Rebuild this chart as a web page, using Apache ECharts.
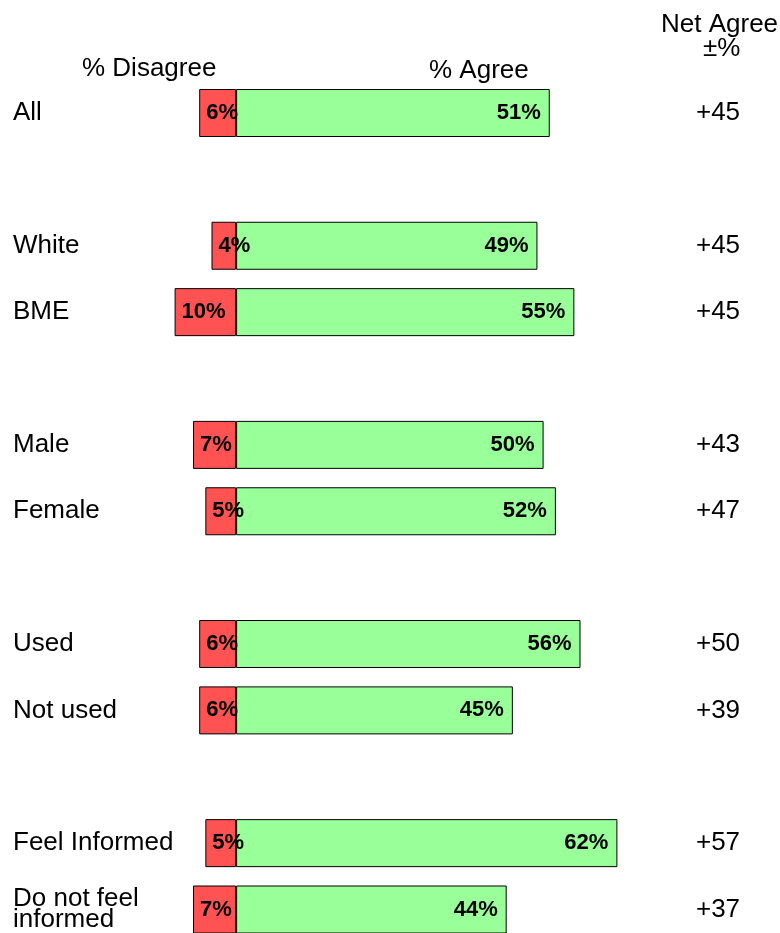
<!DOCTYPE html>
<html>
<head>
<meta charset="utf-8">
<script src="https://cdn.jsdelivr.net/npm/echarts@6/dist/echarts.min.js"></script>
<style>
html,body{margin:0;padding:0;background:#fff;}
#chart{width:780px;height:933px;}
</style>
</head>
<body>
<div id="chart"></div>
<script>
// Data (top to bottom; empty strings are spacer rows)
var categories = ['All', '', 'White', 'BME', '', 'Male', 'Female', '', 'Used', 'Not used', '', 'Feel Informed', 'Do not feel\ninformed'];
var disagree   = [6, null, 4, 10, null, 7, 5, null, 6, 6, null, 5, 7];
var agree      = [51, null, 49, 55, null, 50, 52, null, 56, 45, null, 62, 44];
var netAgree   = ['+45', '', '+45', '+45', '', '+43', '+47', '', '+50', '+39', '', '+57', '+37'];
var headers    = { disagree: '% Disagree', agree: '% Agree', net1: 'Net Agree', net2: '\u00B1%' };

var FONT = '"Liberation Sans", Arial, Helvetica, sans-serif';
var chart = echarts.init(document.getElementById('chart'), null, { renderer: 'canvas' });

var gridLeft = 150, pxPer = 6.15, xMin = -14, xMax = 76;
var gridWidth = (xMax - xMin) * pxPer;

var option = {
  animation: false,
  backgroundColor: '#ffffff',
  textStyle: { fontFamily: FONT },
  grid: { left: gridLeft, top: 113, width: gridWidth, height: 798, containLabel: false },
  xAxis: {
    type: 'value', min: xMin, max: xMax, show: false
  },
  yAxis: [
    {
      type: 'category', data: categories, inverse: true, position: 'left', boundaryGap: false,
      axisLine: { show: false }, axisTick: { show: false }, splitLine: { show: false },
      axisLabel: {
        align: 'left', margin: gridLeft - 13, color: '#000', fontSize: 26,
        lineHeight: 21, fontFamily: FONT, interval: 0
      }
    },
    {
      type: 'category', data: netAgree, inverse: true, position: 'right', boundaryGap: false,
      axisLine: { show: false }, axisTick: { show: false }, splitLine: { show: false },
      axisLabel: {
        align: 'center', margin: 718 - (gridLeft + gridWidth), color: '#000', fontSize: 26,
        fontFamily: FONT, interval: 0
      }
    }
  ],
  series: [
    {
      name: 'Disagree', type: 'bar', stack: 'total', barWidth: 48, clip: false,
      data: disagree.map(function (v) { return v == null ? null : -v; }),
      itemStyle: { color: '#FF5353', borderColor: '#000', borderWidth: 1 },
      label: {
        show: true, position: 'insideLeft', distance: 7, color: '#000',
        fontWeight: 'bold', fontSize: 22, fontFamily: FONT,
        formatter: function (p) { return Math.abs(p.value) + '%'; }
      }
    },
    {
      name: 'Agree', type: 'bar', stack: 'total', barWidth: 48, clip: false,
      data: agree,
      itemStyle: { color: '#99FF99', borderColor: '#000', borderWidth: 1 },
      label: {
        show: true, position: 'insideRight', distance: 9, color: '#000',
        fontWeight: 'bold', fontSize: 22, fontFamily: FONT,
        formatter: function (p) { return p.value + '%'; }
      }
    }
  ],
  graphic: [
    { type: 'text', left: 82, top: 56, style: { text: headers.disagree, fontSize: 26, fontFamily: FONT, fill: '#000' } },
    { type: 'text', left: 429, top: 58, style: { text: headers.agree, fontSize: 26, fontFamily: FONT, fill: '#000' } },
    { type: 'text', left: 661, top: 12, style: { text: headers.net1, fontSize: 26, fontFamily: FONT, fill: '#000' } },
    { type: 'text', left: 703, top: 36, style: { text: headers.net2, fontSize: 26, fontFamily: FONT, fill: '#000' } }
  ]
};
chart.setOption(option);
</script>
</body>
</html>
